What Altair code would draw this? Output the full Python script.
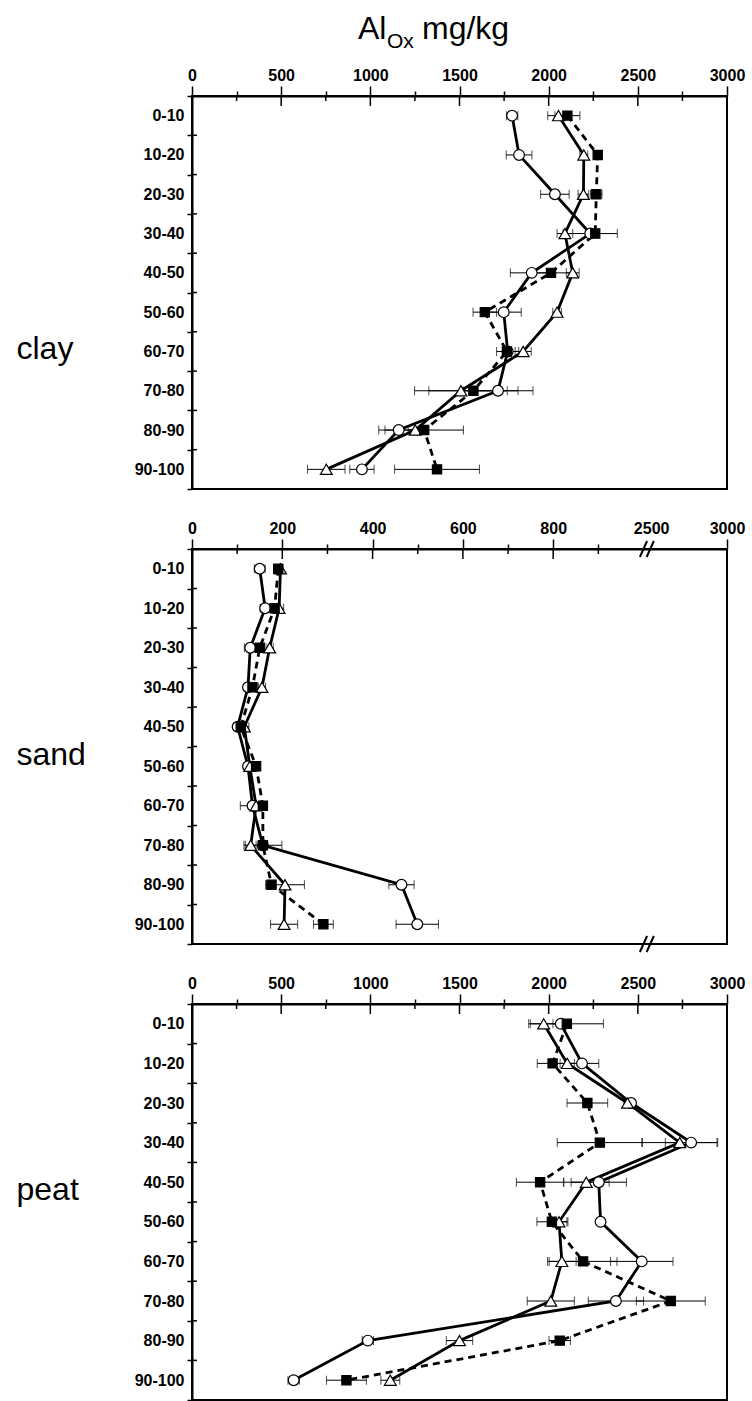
import altair as alt
import pandas as pd

depths = ["0-10", "10-20", "20-30", "30-40", "40-50", "50-60", "60-70", "70-80", "80-90", "90-100"]
title_parts = ["Al", "Ox", "mg/kg"]

# clay
clay_circle = [1795, 1834, 2035, 2233, 1905, 1748, 1770, 1716, 1159, 953]
clay_circle_err = [32, 72, 80, 152, 120, 98, 62, 196, 112, 68]
clay_triangle = [2055, 2197, 2195, 2091, 2135, 2047, 1857, 1508, 1252, 753]
clay_triangle_err = [60, 22, 30, 44, 36, 24, 45, 260, 40, 105]
clay_square = [2105, 2275, 2267, 2261, 2013, 1642, 1766, 1578, 1302, 1374]
clay_square_err = [70, 16, 32, 20, 120, 66, 20, 250, 220, 238]

# sand
sand_circle = [150, 162, 129, 124, 101, 124, 134, 157, 464, 499]
sand_circle_err = [12, 11, 13, 8, 8, 5, 27, 42, 28, 47]
sand_triangle = [196, 193, 172, 155, 116, 128, 142, 130, 206, 204]
sand_triangle_err = [5, 10, 8, 8, 10, 5, 5, 12, 43, 30]
sand_square = [191, 183, 150, 134, 108, 142, 157, 157, 176, 291]
sand_square_err = [5, 5, 5, 5, 5, 5, 5, 5, 10, 22]

# peat
peat_circle = [2068, 2187, 2462, 2799, 2281, 2291, 2522, 2377, 986, 570]
peat_circle_err = [44, 94, 20, 145, 155, 16, 175, 155, 32, 32]
peat_triangle = [1972, 2104, 2442, 2735, 2211, 2058, 2074, 2012, 1500, 1112]
peat_triangle_err = [84, 40, 20, 213, 128, 50, 80, 132, 74, 53]
peat_square = [2102, 2022, 2217, 2287, 1952, 2018, 2193, 2685, 2062, 866]
peat_square_err = [205, 86, 114, 239, 133, 84, 190, 193, 60, 112]

# axis ticks
full_majors = [0, 500, 1000, 1500, 2000, 2500, 3000]
full_minors = [250, 750, 1250, 1750, 2250, 2750]
sand_majors = [0, 200, 400, 600, 800, 1185]
sand_minors = [100, 300, 500, 700, 900]
sand_label_2500 = 1017
sand_max = 1185
sand_breaks = [1000, 1015]

FONT = "Liberation Sans"


def long_df(c, ce, t, te, s, se):
    rows = []
    for name, vals, errs in (("circle", c, ce), ("triangle", t, te), ("square", s, se)):
        for i, (d, v, e) in enumerate(zip(depths, vals, errs)):
            rows.append(dict(series=name, depth=d, idx=i, value=v, lo=v - e, hi=v + e))
    return pd.DataFrame(rows)


def make_panel(label, df, height, xmax, tick_values, label_expr, major_test,
               majors, minors, title_y, hide_test=None, breaks=None, header=False):
    xscale = alt.Scale(domain=[0, xmax], nice=False, zero=False)
    axis_kw = dict(
        orient="top", values=tick_values, labelExpr=label_expr,
        tickSize={"condition": {"test": major_test, "value": 10}, "value": 5},
        tickWidth=1.5, tickColor="black", domainColor="black", domainWidth=2,
        labelFont=FONT, labelFontSize=16, labelFontWeight="bold", labelColor="black",
        labelPadding=3, labelFlush=False, labelOverlap=False, grid=False,
    )
    if hide_test:
        axis_kw["tickOpacity"] = {"condition": {"test": hide_test, "value": 0}, "value": 1}
    xaxis = alt.Axis(**axis_kw)
    yaxis = alt.Axis(
        orient="left", tickBand="extent", tickSize=5, tickWidth=1.5, tickColor="black",
        domainColor="black", domainWidth=2, labelFont=FONT, labelFontSize=16,
        labelFontWeight="bold", labelColor="black", labelPadding=3, grid=False,
        titleAngle=0, titleAlign="left",
        titleBaseline="alphabetic", titleX=-176, titleY=title_y, titleFont=FONT,
        titleFontSize=32, titleFontWeight="normal", titleColor="black",
    )
    yscale = alt.Scale(type="band", domain=depths, paddingInner=0, paddingOuter=0)

    def Y(**kw):
        return alt.Y("depth:N", sort=depths, scale=yscale, axis=yaxis, title=label, **kw)

    def X(field):
        return alt.X(f"{field}:Q", scale=xscale, axis=xaxis, title=None)

    base = alt.Chart(df)
    layers = [
        base.mark_rule(color="black", strokeWidth=1).encode(x=X("lo"), x2="hi", y=Y()),
        base.mark_tick(color="black", thickness=1, size=9, orient="vertical").encode(x=X("lo"), y=Y()),
        base.mark_tick(color="black", thickness=1, size=9, orient="vertical").encode(x=X("hi"), y=Y()),
    ]
    for name in ("circle", "triangle", "square"):
        kw = dict(color="black", strokeWidth=2.8)
        if name == "square":
            kw["strokeDash"] = [7, 5]
        layers.append(
            base.transform_filter(alt.datum.series == name).mark_line(**kw).encode(
                x=X("value"), y=Y(), order=alt.Order("idx:Q"))
        )
    styles = {
        "circle": dict(shape="circle", size=115, fill="white"),
        "triangle": dict(shape="triangle-up", size=140, fill="white"),
        "square": dict(shape="square", size=85, fill="black"),
    }
    for name, st in styles.items():
        layers.append(
            base.transform_filter(alt.datum.series == name).mark_point(
                filled=True, stroke="black", strokeWidth=1.2, opacity=1, **st).encode(
                x=X("value"), y=Y())
        )
    # inner halves of the crossing ticks
    layers.append(alt.Chart(pd.DataFrame({"v": majors})).mark_rule(color="black", strokeWidth=1.5).encode(
        x=X("v"), y=alt.value(0), y2=alt.value(10)))
    layers.append(alt.Chart(pd.DataFrame({"v": minors})).mark_rule(color="black", strokeWidth=1.5).encode(
        x=X("v"), y=alt.value(0), y2=alt.value(5)))
    layers.append(alt.Chart(pd.DataFrame({"depth": depths[1:]})).mark_rule(color="black", strokeWidth=1.5).encode(
        y=Y(bandPosition=0), x=alt.value(0), x2=alt.value(5)))
    if breaks:
        bdf = pd.DataFrame({"c": breaks})
        bdf["x1"] = bdf["c"] - 8
        bdf["x2"] = bdf["c"] + 8
        for ylo in (8, height + 8):
            layers.append(alt.Chart(bdf).mark_rule(color="black", strokeWidth=2).encode(
                x=X("x1"), x2="x2", y=alt.value(ylo), y2=alt.value(ylo - 16)))
    if header:
        parts = [
            (title_parts[0], 166, -57, 32),
            (title_parts[1], 195, -48, 21),
            (title_parts[2], 230, -57, 32),
        ]
        for txt, px, py, fs in parts:
            layers.append(alt.Chart(pd.DataFrame({"t": [txt]})).mark_text(
                align="left", baseline="alphabetic", font=FONT, fontSize=fs, color="black").encode(
                text="t:N", x=alt.value(px), y=alt.value(py)))
    return alt.layer(*layers).properties(width=535, height=height)


full_expr = "datum.value % 500 == 0 ? format(datum.value, 'd') : ''"
full_ticks = sorted(full_majors + full_minors)
full_test = "datum.value % 500 == 0"

clay = make_panel("clay", long_df(clay_circle, clay_circle_err, clay_triangle, clay_triangle_err,
                                  clay_square, clay_square_err),
                  393, 3000, full_ticks, full_expr, full_test, full_majors, full_minors, 262, header=True)

sand_expr = ("datum.value == %d ? '2500' : datum.value == %d ? '3000' : "
             "(datum.value %% 200 == 0 ? format(datum.value, 'd') : '')") % (sand_label_2500, sand_max)
sand_ticks = sorted(sand_majors + sand_minors + [sand_label_2500])
sand_test = "datum.value %% 200 == 0 || datum.value == %d || datum.value == %d" % (sand_max, sand_label_2500)
sand = make_panel("sand", long_df(sand_circle, sand_circle_err, sand_triangle, sand_triangle_err,
                                  sand_square, sand_square_err),
                  395, sand_max, sand_ticks, sand_expr, sand_test, sand_majors, sand_minors, 215,
                  hide_test="datum.value == %d" % sand_label_2500, breaks=sand_breaks)

peat = make_panel("peat", long_df(peat_circle, peat_circle_err, peat_triangle, peat_triangle_err,
                                  peat_square, peat_square_err),
                  396, 3000, full_ticks, full_expr, full_test, full_majors, full_minors, 195)

chart = alt.vconcat(clay, sand, peat, spacing=60, bounds="flush").properties(
    padding={"left": 15, "top": 12, "right": 5, "bottom": 0},
    background="white",
).configure_view(stroke="black", strokeWidth=2)

chart.save("out.html", embed_options={"renderer": "svg", "actions": False})
